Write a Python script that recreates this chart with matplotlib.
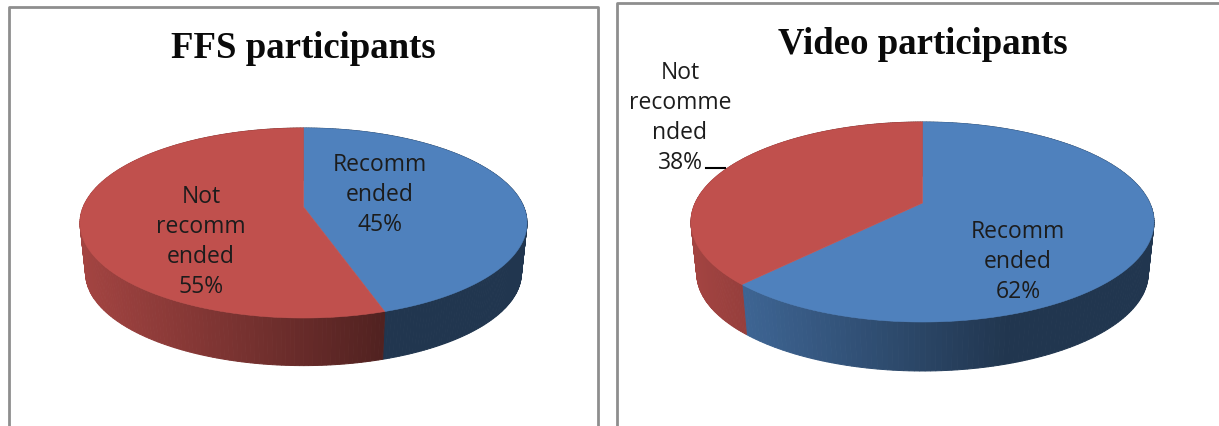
import numpy as np
import matplotlib
matplotlib.use("Agg")
import matplotlib.pyplot as plt
from matplotlib.patches import Polygon

# datos de los dos graficos
categorias = ["Recommended", "Not recommended"]
ffs_valores = [45, 55]
video_valores = [62, 38]
colores = ["#4f81bd", "#c0504d"]

ffs_etiquetas = ["Recomm\nended\n45%", "Not\nrecomm\nended\n55%"]
video_etiquetas = ["Recomm\nended\n62%", "Not\nrecomme\nnded\n38%"]

FUENTE = ["Open Sans", "DejaVu Sans"]


def proyectar(theta, cx, cy, a, b, p):
    """theta en horario desde arriba, perspectiva simple sobre la elipse"""
    X, Y = np.sin(theta), -np.cos(theta)
    d = 1 - p * Y
    u, v = X / d, Y / d
    k = 1 - p ** 2
    return cx + a * u * np.sqrt(k), cy + b * (v * k - p)


def sombra(x, cx, a):
    t = (x - (cx - a)) / (2 * a)
    return np.interp(t, [0, 0.68, 1], [0.85, 0.42, 0.42])


def pastel(ax, valores, cx, cy, a, b, alto, p):
    total = float(sum(valores))
    bordes = np.concatenate([[0], np.cumsum(valores)]) / total * 2 * np.pi
    # lateral primero, en tiras finas para el degradado
    for i, col in enumerate(colores):
        rgb = np.array(matplotlib.colors.to_rgb(col))
        th = np.linspace(bordes[i], bordes[i + 1], 200)
        x, y = proyectar(th, cx, cy, a, b, p)
        xb = cx + (x - cx) * 0.975
        yb = cy + (y - cy) * 0.975 + alto
        for j in range(len(th) - 1):
            c = rgb * sombra((x[j] + x[j + 1]) / 2, cx, a)
            ax.add_patch(Polygon([(x[j], y[j]), (x[j + 1], y[j + 1]),
                                  (xb[j + 1], yb[j + 1]), (xb[j], yb[j])],
                                 facecolor=c, edgecolor=c, lw=0.7, zorder=2))
    # cara superior
    x0, y0 = cx, cy - b * p
    for i, col in enumerate(colores):
        th = np.linspace(bordes[i], bordes[i + 1], 300)
        x, y = proyectar(th, cx, cy, a, b, p)
        pts = np.column_stack([np.r_[x0, x], np.r_[y0, y]])
        ax.add_patch(Polygon(pts, facecolor=col, edgecolor=col, lw=0.4, zorder=3))


fig = plt.figure(figsize=(12.19, 4.27), dpi=100)
ax = fig.add_axes([0, 0, 1, 1])
ax.set_xlim(0, 1219)
ax.set_ylim(427, 0)
ax.axis("off")

# marcos de cada panel
ax.plot([8.5, 8.5, 598, 598], [427, 7.5, 7.5, 427], color="#8e8e8e", lw=2)
ax.plot([617, 617, 1219], [427, 4, 4], color="#8e8e8e", lw=2)

pastel(ax, ffs_valores, 303.5, 224, 223.5, 95, 50, 0.17)
pastel(ax, video_valores, 922.5, 223, 231.5, 100, 51.5, 0.19)

ax.text(303, 49, "FFS participants", ha="center", va="center", fontsize=26.5,
        fontweight="bold", family="Liberation Serif", color="#0a0a0a")
ax.text(922.5, 45, "Video participants", ha="center", va="center", fontsize=26.5,
        fontweight="bold", family="Liberation Serif", color="#0a0a0a")

estilo = dict(ha="center", va="center", fontsize=16.5, family=FUENTE,
              color="#1c1c1c", linespacing=1.34, zorder=5)
ax.text(380, 195, ffs_etiquetas[0], **estilo)
ax.text(201, 242, ffs_etiquetas[1], **estilo)
ax.text(1018, 262, video_etiquetas[0], **estilo)
ax.text(680, 118, video_etiquetas[1], **estilo)
ax.plot([706, 725], [169, 169], color="black", lw=1.5, zorder=5)

fig.savefig("out.png", dpi=100)
